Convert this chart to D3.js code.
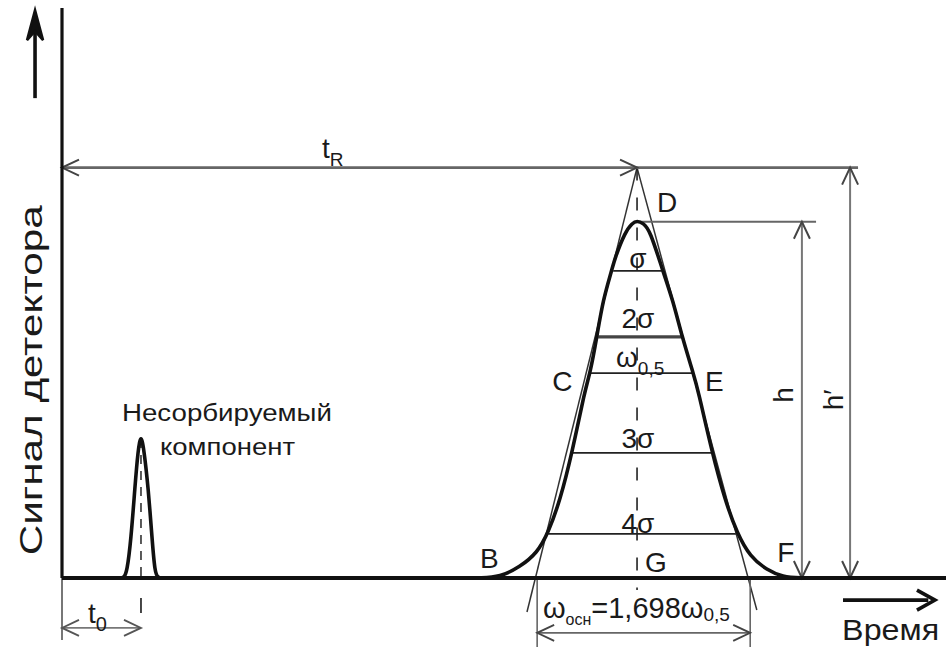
<!DOCTYPE html>
<html>
<head>
<meta charset="utf-8">
<script src="https://cdn.jsdelivr.net/npm/d3@7"></script>
<style>
body { margin: 0; background: #fff; }
svg { display: block; font-family: "Liberation Sans", Arial, sans-serif; }
</style>
</head>
<body>
<div id="chart"></div>
<script>
// time axis in arbitrary units, signal in % of peak height h
const peakTime = [9.2, 9.46, 9.91, 10.36, 10.75, 11.0, 11.27, 11.54, 11.83, 11.95, 12.1, 12.24, 12.44, 12.51, 12.74, 12.9, 13.01,
                  13.15, 13.3, 13.6, 13.82, 14.03, 14.28, 14.39, 14.71, 15.0, 15.27, 15.57, 15.95, 16.31, 16.7, 17.15];
const peakSignal = [0, 0, 0.28, 3.09, 7.02, 12.63, 21.89, 35.09, 52.77, 57.54, 67.65, 78.04, 86.46, 89.82, 97.12, 99.6, 100.3,
                    99.6, 97.75, 85.89, 78.04, 67.65, 57.54, 52.77, 35.09, 21.89, 12.63, 5.9, 2.25, 0.28, 0, 0];

const solventTime = [1.30, 1.40, 1.47, 1.56, 1.65, 1.72, 1.787, 1.855, 1.95, 2.04, 2.10, 2.17, 2.27];
const solventSignal = [0, 0, 1.68, 10.67, 25.54, 35.93, 40.6, 35.93, 25.54, 10.67, 1.68, 0, 0];

// width lines across the peak
const levelSignal = [86.2, 67.7, 57.5, 35.1, 12.4];
const levelLeft = [12.47, 12.13, 11.95, 11.54, 11.0];
const levelRight = [13.57, 14.03, 14.28, 14.71, 15.27];
const levelWeight = [1.8, 3.2, 1.8, 1.8, 1.8];
const levelLabel = ["σ", "2σ", "ω", "3σ", "4σ"];
const levelSub = ["", "", "0,5", "", ""];

const t0 = 1.787;
const tR = 13.01;
const h = 100;
const hApex = 115.2;           // intersection of the tangents
const tangentFoot = [[10.52, -9.54], [15.72, -8.98]];
const baseLeft = 10.75, baseRight = 15.57;

const width = 946;
const height = 648;

const x = d3.scaleLinear().domain([0, 20]).range([62, 946]);
const y = d3.scaleLinear().domain([0, 160]).range([578, 8]);

const svg = d3.select("#chart").append("svg")
    .attr("width", width)
    .attr("height", height);

const ink = "#111";

function line(t1, s1, t2, s2, color, w) {
    return svg.append("line")
        .attr("x1", x(t1)).attr("y1", y(s1))
        .attr("x2", x(t2)).attr("y2", y(s2))
        .attr("stroke", color)
        .attr("stroke-width", w);
}

// open chevron head at (t,s), angle in degrees, 0 = pointing right
function head(t, s, angle, color, w, len = 17, half = 8) {
    svg.append("path")
        .attr("d", `M${-len},${-half}L0,0L${-len},${half}`)
        .attr("transform", `translate(${x(t)},${y(s)}) rotate(${angle})`)
        .attr("fill", "none")
        .attr("stroke", color)
        .attr("stroke-width", w)
        .attr("stroke-linejoin", "miter");
}

// level lines
levelSignal.forEach((s, i) => {
    line(levelLeft[i], s, levelRight[i], s, i === 1 ? "#444" : "#222", levelWeight[i]);
});

// tangents
tangentFoot.forEach(([t, s]) => line(tR, hApex, t, s, "#333", 1.5));

// dashed centre lines
line(tR, hApex, tR, -3.4, "#222", 1.6).attr("stroke-dasharray", "13 17");
line(t0, 39, t0, 0, "#333", 1.6).attr("stroke-dasharray", "9 7");
line(t0, -5.6, t0, -9.8, "#333", 1.8);

// tR dimension
const tRy = hApex;
line(0, tRy, 18.01, tRy, "#666", 2.6);
head(0, tRy, 180, "#444", 2);
head(tR, tRy, 0, "#444", 2);

// h and h' dimensions
line(tR, h, 17.06, h, "#666", 2.2);
line(16.74, h, 16.74, 0, "#777", 2);
head(16.74, h, -90, "#444", 2);
head(16.74, 0, 90, "#444", 2);
line(17.83, hApex, 17.83, 0, "#777", 2);
head(17.83, hApex, -90, "#444", 2);
head(17.83, 0, 90, "#444", 2);

// base width dimension
line(baseLeft, 0, baseLeft, -19.4, "#666", 1.6);
line(baseRight, 0, baseRight, -19.4, "#666", 1.6);
line(baseLeft, -15.4, baseRight, -15.4, "#666", 1.8);
head(baseLeft, -15.4, 180, "#444", 1.8);
head(baseRight, -15.4, 0, "#444", 1.8);

// t0 dimension
line(0, 0, 0, -17.4, "#777", 2);
line(0, -14.0, t0, -14.0, "#777", 1.8);
head(0, -14.0, 180, "#555", 1.8);
head(t0, -14.0, 0, "#555", 1.8);

// peaks
const curve = d3.line()
    .x(d => x(d[0]))
    .y(d => y(d[1]))
    .curve(d3.curveBasis);

svg.append("path")
    .attr("d", curve(d3.zip(peakTime, peakSignal)))
    .attr("fill", "none")
    .attr("stroke", ink)
    .attr("stroke-width", 3.6);

svg.append("path")
    .attr("d", curve(d3.zip(solventTime, solventSignal)))
    .attr("fill", "none")
    .attr("stroke", ink)
    .attr("stroke-width", 3.6)
    .attr("stroke-linejoin", "round");

// axes
line(0, 0, 20, 0, ink, 4);
line(0, 0, 0, 160, ink, 3.2);

// direction arrows
line(-0.61, 134.7, -0.61, 153, ink, 3.6);
svg.append("path")
    .attr("d", `M${x(-0.61)},${y(159.4)}L${x(-0.61) - 8},${y(151)}L${x(-0.61)},${y(153.5)}L${x(-0.61) + 8},${y(151)}Z`)
    .attr("fill", ink).attr("stroke", ink).attr("stroke-width", 2.5).attr("stroke-linejoin", "miter");
line(17.67, -6.2, 19.6, -6.2, ink, 3.6);
head(19.75, -6.2, 0, ink, 3.6, 18, 10);

// ---- text ----
function label(t, s, txt, size, anchor = "start") {
    return svg.append("text")
        .attr("x", x(t)).attr("y", y(s))
        .attr("font-size", size)
        .attr("text-anchor", anchor)
        .attr("fill", "#1a1a1a")
        .text(txt);
}

function withSub(t, s, main, sub, size, subSize, anchor = "start") {
    const el = svg.append("text")
        .attr("x", x(t)).attr("y", y(s))
        .attr("font-size", size)
        .attr("text-anchor", anchor)
        .attr("fill", "#1a1a1a");
    el.append("tspan").text(main);
    el.append("tspan").attr("font-size", subSize).attr("dy", size * 0.28).text(sub);
    return el;
}

withSub(5.88, 117.9, "t", "R", 28, 19);
label(13.46, 102.7, "D", 28);
label(11.09, 52.5, "C", 28);
label(14.55, 52.5, "E", 28);
label(9.457, 2.8, "B", 28);
label(13.19, 1.7, "G", 28);
label(16.18, 4.5, "F", 28);

const levelTextS = [87.0, 70.2, 59.2, 36.5, 12.6];
levelLabel.forEach((txt, i) => {
    if (levelSub[i]) {
        withSub(13.08, levelTextS[i], txt, levelSub[i], 28, 19, "middle");
    } else {
        label(13.03, levelTextS[i], txt, 28, "middle");
    }
});

// base width formula
const wb = svg.append("text")
    .attr("x", x(10.88)).attr("y", y(-11.2))
    .attr("font-size", 29)
    .attr("fill", "#1a1a1a");
wb.append("tspan").text("ω");
wb.append("tspan").attr("font-size", 16).attr("dy", 7).text("осн");
wb.append("tspan").attr("dy", -7).text("=1,698ω");
wb.append("tspan").attr("font-size", 19).attr("dy", 3).text("0,5");

withSub(0.59, -12.6, "t", "0", 28, 20);

label(1.357, 44.07, "Несорбируемый", 23).attr("textLength", 210).attr("lengthAdjust", "spacingAndGlyphs");
label(2.217, 34.5, "компонент", 23).attr("textLength", 135).attr("lengthAdjust", "spacingAndGlyphs");
label(17.65, -17.4, "Время", 29).attr("textLength", 97).attr("lengthAdjust", "spacingAndGlyphs");

// rotated labels
function vlabel(t, s, txt, size) {
    return svg.append("text")
        .attr("transform", `translate(${x(t)},${y(s)}) rotate(-90)`)
        .attr("font-size", size)
        .attr("text-anchor", "middle")
        .attr("fill", "#1a1a1a")
        .text(txt);
}
vlabel(-0.45, 55.5, "Сигнал детектора", 32).attr("textLength", 350).attr("lengthAdjust", "spacingAndGlyphs");
vlabel(16.54, 51.4, "h", 28);
vlabel(17.67, 50, "h′", 28);
</script>
</body>
</html>
